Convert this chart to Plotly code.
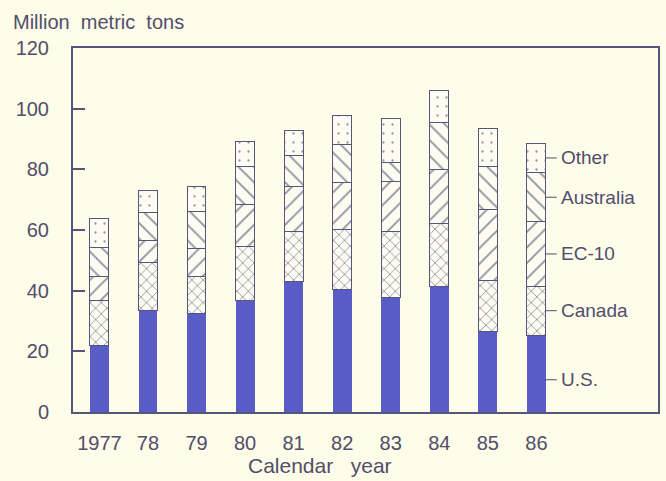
import plotly.graph_objects as go

# Calendar years shown on the x-axis
years = ["1977", "78", "79", "80", "81", "82", "83", "84", "85", "86"]

# Stacked components, million metric tons
us = [21.9, 33.3, 32.4, 36.6, 43.1, 40.4, 37.6, 41.4, 26.4, 25.3]
canada = [14.8, 15.9, 12.2, 17.9, 16.3, 19.8, 22.0, 20.8, 17.1, 16.2]
ec10 = [7.9, 7.5, 9.4, 13.8, 14.9, 15.4, 16.4, 17.9, 23.1, 21.2]
australia = [9.5, 9.0, 12.0, 12.6, 10.2, 12.7, 6.3, 15.2, 14.2, 16.2]
other = [9.6, 7.2, 8.5, 8.3, 8.3, 9.4, 14.3, 10.6, 12.8, 9.7]

series_names = ["U.S.", "Canada", "EC-10", "Australia", "Other"]
series_values = [us, canada, ec10, australia, other]

y_ticks = [0, 20, 40, 60, 80, 100, 120]

INK = "#524d6c"
HATCH = "#2c2846"
LINE = "#56567c"
BLUE = "#585cc4"
PAPER = "#fdfde9"
FILL = "#fcfcf3"
FONT = "Liberation Sans, Arial, sans-serif"
BAR_W = 0.39

# fill pattern: (shape, size, solidity)
patterns = {
    "Canada": ("x", 8, 0.2),
    "EC-10": ("/", 11, 0.17),
    "Australia": ("\\", 11, 0.17),
    "Other": (".", 9, 0.05),
}

fig = go.Figure()
for name, vals in zip(series_names, series_values):
    if name == "U.S.":
        marker = dict(color=BLUE, line=dict(width=0))
    else:
        shape, size, solidity = patterns[name]
        marker = dict(
            color=FILL,
            line=dict(color=LINE, width=1),
            pattern=dict(shape=shape, fgcolor=HATCH, bgcolor=FILL,
                         size=size, solidity=solidity, fillmode="overlay"),
        )
    fig.add_trace(go.Bar(x=years, y=vals, name=name, width=BAR_W,
                         marker=marker, showlegend=False))

# Series labels beside the last bar, with short leader dashes
last = len(years) - 1
base = 0.0
for name, vals in zip(series_names, series_values):
    seg = vals[last]
    frac = 0.42 if name == "U.S." else 0.5
    ymid = base + seg * frac
    base += seg
    fig.add_shape(type="line", xref="x", yref="y",
                  x0=last + BAR_W / 2, x1=last + 0.42, y0=ymid, y1=ymid,
                  line=dict(color=INK, width=1))
    fig.add_annotation(x=last + 0.47, y=ymid, xref="x", yref="y",
                       text=name, showarrow=False, xanchor="left",
                       yanchor="middle",
                       font=dict(family=FONT, size=19, color=INK))

# Axis titles, placed in paper units relative to the 587x364 plot area
fig.add_annotation(x=-62 / 587, y=1 + 26 / 364, xref="paper", yref="paper",
                   text="Million\u00a0\u00a0metric\u00a0\u00a0tons",
                   showarrow=False, xanchor="left", yanchor="middle",
                   font=dict(family=FONT, size=20, color=INK))
fig.add_annotation(x=4.55, y=-54 / 364, xref="x", yref="paper",
                   text="Calendar\u00a0\u00a0\u00a0year",
                   showarrow=False, xanchor="center", yanchor="middle",
                   font=dict(family=FONT, size=21, color=INK))

fig.update_layout(
    width=666, height=481,
    margin=dict(l=73, r=6, t=48, b=69),
    paper_bgcolor=PAPER, plot_bgcolor=PAPER,
    barmode="stack",
    font=dict(family=FONT, size=20, color=INK),
    xaxis=dict(
        type="category", range=[-0.544, 11.505],
        showline=True, linecolor=LINE, linewidth=2, mirror=True,
        showgrid=False, zeroline=False, ticks="", ticklabelstandoff=12,
        tickfont=dict(family=FONT, size=20, color=INK),
    ),
    yaxis=dict(
        range=[0, 120], tickvals=y_ticks,
        showline=True, linecolor=LINE, linewidth=2, mirror=True,
        showgrid=False, zeroline=False,
        ticks="inside", ticklen=12, tickwidth=1.5, tickcolor=LINE,
        ticklabelstandoff=18,
        tickfont=dict(family=FONT, size=20, color=INK),
    ),
)

fig.write_html("out.html")
